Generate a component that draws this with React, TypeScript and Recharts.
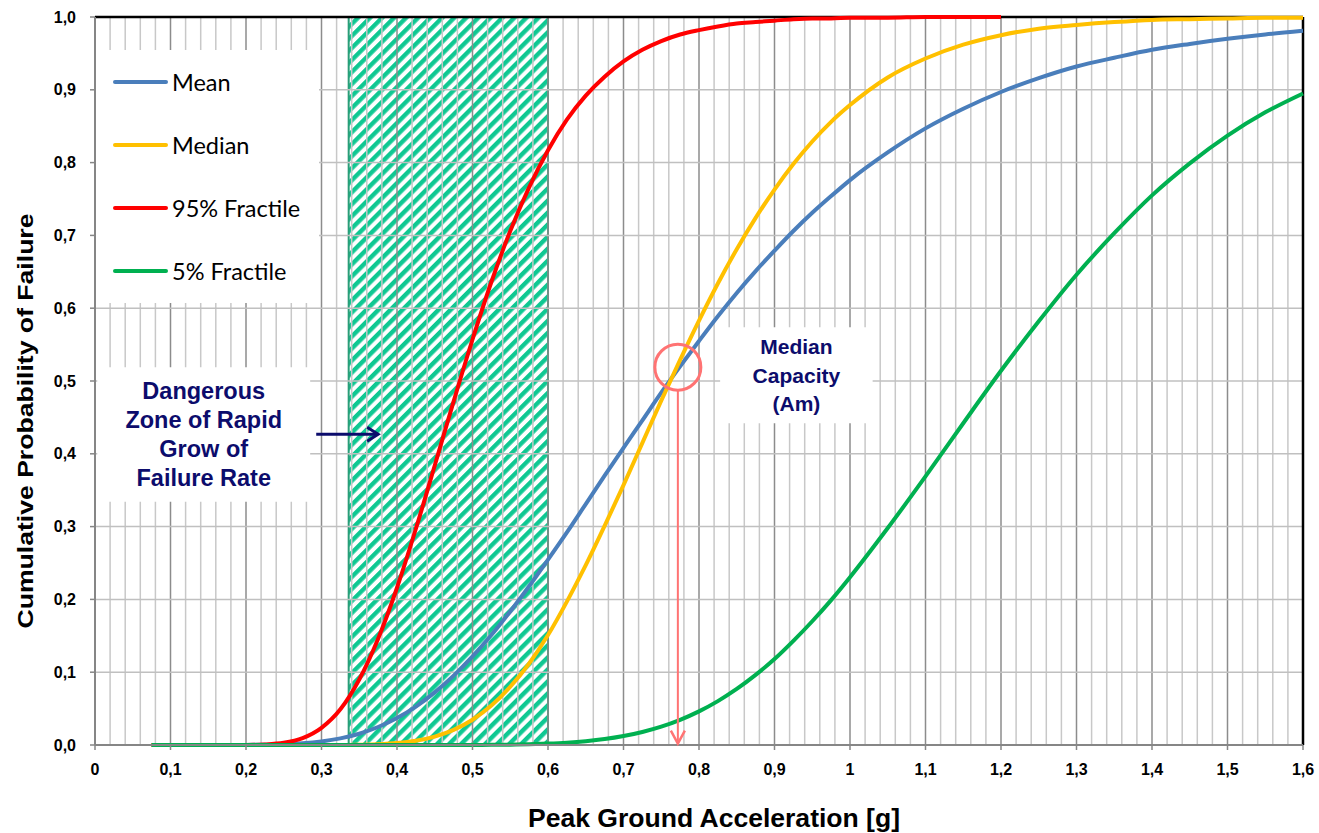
import React from 'react';
import { LineChart, Line, XAxis, YAxis, ReferenceArea, ReferenceLine, ReferenceDot, Legend, Label } from 'recharts';

const pga = [0.075, 0.1, 0.125, 0.15, 0.175, 0.2, 0.225, 0.25, 0.275, 0.3, 0.325, 0.35, 0.375, 0.4, 0.425, 0.45, 0.475, 0.5,
  0.525, 0.55, 0.575, 0.6, 0.625, 0.65, 0.675, 0.7, 0.725, 0.75, 0.775, 0.8, 0.825, 0.85, 0.875, 0.9, 0.925, 0.95, 0.975, 1.0,
  1.05, 1.1, 1.15, 1.2, 1.25, 1.3, 1.35, 1.4, 1.45, 1.5, 1.55, 1.6];

const meanP = [0, 0, 0, 0, 0, 0.0001, 0.0004, 0.001, 0.0023, 0.0049, 0.0091, 0.0155, 0.0247, 0.037, 0.0528, 0.0723, 0.0953, 0.1216,
  0.151, 0.1835, 0.218, 0.2546, 0.292, 0.331, 0.37, 0.408, 0.446, 0.484, 0.52, 0.555, 0.589, 0.621, 0.651, 0.679, 0.706, 0.731, 0.754, 0.776,
  0.814, 0.847, 0.874, 0.897, 0.916, 0.932, 0.944, 0.955, 0.963, 0.97, 0.976, 0.981];

const medianP = [0, 0, 0, 0, 0, 0, 0, 0, 0, 0, 0, 0.0004, 0.0011, 0.0027, 0.0059, 0.0116, 0.0208, 0.0347,
  0.0541, 0.08, 0.112, 0.151, 0.197, 0.247, 0.301, 0.357, 0.415, 0.473, 0.529, 0.583, 0.634, 0.681, 0.724, 0.763, 0.798, 0.829, 0.856, 0.879,
  0.917, 0.943, 0.962, 0.975, 0.984, 0.989, 0.993, 0.996, 0.997, 0.998, 0.999, 0.999];

const p95 = [0, 0, 0, 0, 0, 0, 0.0007, 0.003, 0.0095, 0.0236, 0.049, 0.09, 0.146, 0.216, 0.297, 0.384, 0.472, 0.557,
  0.636, 0.706, 0.766, 0.817, 0.859, 0.892, 0.918, 0.939, 0.955, 0.967, 0.976, 0.982, 0.987, 0.991, 0.993, 0.995, 0.997, 0.998, 0.998, 0.999,
  0.999, 1.0, 1.0, 1.0, null, null, null, null, null, null, null, null];

const p5 = [0, 0, 0, 0, 0, 0, 0, 0, 0, 0, 0, 0, 0, 0, 0, 0, 0, 0.0001,
  0.0002, 0.0005, 0.001, 0.0019, 0.0032, 0.0052, 0.0081, 0.0123, 0.0179, 0.0252, 0.0346, 0.0462, 0.0603, 0.077, 0.0963, 0.118, 0.143, 0.17, 0.199, 0.2305,
  0.298, 0.369, 0.442, 0.514, 0.582, 0.646, 0.703, 0.755, 0.799, 0.837, 0.869, 0.895];

const seriesKeys = ['mean', 'median', 'p95', 'p5'];
const seriesNames = ['Mean', 'Median', '95% Fractile', '5% Fractile'];
const seriesColors = ['#4a7ebb', '#ffc000', '#ff0000', '#00b050'];

const xTicks = [0, 0.1, 0.2, 0.3, 0.4, 0.5, 0.6, 0.7, 0.8, 0.9, 1, 1.1, 1.2, 1.3, 1.4, 1.5, 1.6];
const yTicks = [0, 0.1, 0.2, 0.3, 0.4, 0.5, 0.6, 0.7, 0.8, 0.9, 1];
const majorX = [0.1, 0.2, 0.3, 0.4, 0.5, 0.6, 0.7, 0.8, 0.9, 1, 1.1, 1.2, 1.3, 1.4, 1.5];
const majorY = [0.1, 0.2, 0.3, 0.4, 0.5, 0.6, 0.7, 0.8, 0.9];
const minorX = [0.02, 0.04, 0.06, 0.08, 0.12, 0.14, 0.16, 0.18, 0.22, 0.24, 0.26, 0.28, 0.32, 0.34, 0.36, 0.38,
  0.42, 0.44, 0.46, 0.48, 0.52, 0.54, 0.56, 0.58, 0.62, 0.64, 0.66, 0.68, 0.72, 0.74, 0.76, 0.78,
  0.82, 0.84, 0.86, 0.88, 0.92, 0.94, 0.96, 0.98, 1.02, 1.04, 1.06, 1.08, 1.12, 1.14, 1.16, 1.18,
  1.22, 1.24, 1.26, 1.28, 1.32, 1.34, 1.36, 1.38, 1.42, 1.44, 1.46, 1.48, 1.52, 1.54, 1.56, 1.58];

const dangerLines = ['Dangerous', 'Zone of Rapid', 'Grow of', 'Failure Rate'];
const medianLines = ['Median', 'Capacity', '(Am)'];

const chartData = pga.map((x, i) => ({ x, mean: meanP[i], median: medianP[i], p95: p95[i], p5: p5[i] }));

const NAVY = '#0c0c6c';
const SALMON = '#ff7373';
const FONT = '"Liberation Sans", Arial, sans-serif';

const fmtY = (v: number) => v.toFixed(1).replace('.', ',');
const fmtX = (v: number) => (v === 0 ? '0' : v === 1 ? '1' : v.toFixed(1).replace('.', ','));

const BoxText = (props: any) => {
  const { viewBox, lines, size, lh } = props;
  const cx = viewBox.x + viewBox.width / 2;
  const cy = viewBox.y + viewBox.height / 2;
  const start = cy - ((lines.length - 1) * lh) / 2;
  return (
    <g>
      {lines.map((t: string, i: number) => (
        <text key={t} x={cx} y={start + i * lh} textAnchor="middle" dominantBaseline="central"
          fill={NAVY} fontFamily={FONT} fontWeight="bold" fontSize={size}>{t}</text>
      ))}
    </g>
  );
};

const LegendBox = () => (
  <div style={{ paddingTop: 0.5 }}>
    {seriesNames.map((n, i) => (
      <div key={n} style={{ height: 63, display: 'flex', alignItems: 'center' }}>
        <div style={{ marginLeft: 17, width: 55, height: 4.5, borderRadius: 3, background: seriesColors[i] }} />
        <span style={{ marginLeft: 4, fontFamily: 'Lato, sans-serif', fontSize: 23.5, color: '#000' }}>{n}</span>
      </div>
    ))}
  </div>
);

export default function App() {
  return (
    <div style={{ position: 'absolute', left: 0, top: 0, width: 1319, height: 833, background: '#fff' }}>
      <svg width={0} height={0} style={{ position: 'absolute' }}>
        <defs>
          <pattern id="hatch" patternUnits="userSpaceOnUse" width={8.5} height={8.5} patternTransform="rotate(45)">
            <rect x={0} y={0} width={4.4} height={8.5} fill="#0fc892" />
          </pattern>
          <marker id="navyArrow" markerWidth={16} markerHeight={18} refX={13} refY={9} orient="auto" markerUnits="userSpaceOnUse">
            <path d="M2,2 L13,9 L2,16" fill="none" stroke={NAVY} strokeWidth={3} />
          </marker>
          <marker id="redArrow" markerWidth={18} markerHeight={18} refX={15} refY={9} orient="auto" markerUnits="userSpaceOnUse">
            <path d="M2,2 L15,9 L2,16" fill="none" stroke={SALMON} strokeWidth={2.5} />
          </marker>
        </defs>
      </svg>
      <LineChart width={1319} height={833} data={chartData} margin={{ top: 17, right: 16, bottom: 0, left: 0 }}>
        <ReferenceArea x1={0.336} x2={0.6} y1={0} y2={1} fill="url(#hatch)" fillOpacity={1} stroke="#2a9d78" strokeWidth={2} />
        {minorX.map((v) => (
          <ReferenceLine key={'mx' + v} x={v} stroke="#c8c8c8" strokeWidth={1.5} />
        ))}
        {majorX.map((v) => (
          <ReferenceLine key={'MX' + v} x={v} stroke="#8c8c8c" strokeWidth={1.5} />
        ))}
        {majorY.map((v) => (
          <ReferenceLine key={'MY' + v} y={v} stroke="#c0c0c0" strokeWidth={1.5} />
        ))}
        <ReferenceLine y={1} stroke="#000" strokeWidth={2.5} />
        <ReferenceLine x={1.6} stroke="#000" strokeWidth={2.5} />
        <ReferenceArea x1={0.003} x2={0.285} y1={0.334} y2={0.519} fill="#fff" fillOpacity={1} stroke="none" zIndex={450}
          label={<BoxText lines={dangerLines} size={23.5} lh={28.7} />} />
        <ReferenceArea x1={0.828} x2={1.03} y1={0.442} y2={0.574} fill="#fff" fillOpacity={1} stroke="none" zIndex={450}
          label={<BoxText lines={medianLines} size={21} lh={28.5} />} />
        <XAxis type="number" dataKey="x" domain={[0, 1.6]} ticks={xTicks} tickFormatter={fmtX} height={88}
          interval={0} tickSize={5} tickMargin={14} axisLine={{ stroke: '#868686', strokeWidth: 2 }}
          tickLine={{ stroke: '#868686', strokeWidth: 1.5 }}
          tick={{ fill: '#000', fontSize: 16, fontWeight: 'bold', fontFamily: FONT }}>
          <Label content={() => (
            <text x={714} y={818} textAnchor="middle" dominantBaseline="central" fontFamily={FONT} fontWeight="bold"
              fontSize={25} fill="#000" textLength={372} lengthAdjust="spacingAndGlyphs">Peak Ground Acceleration [g]</text>
          )} />
        </XAxis>
        <YAxis type="number" domain={[0, 1]} ticks={yTicks} tickFormatter={fmtY} width={95} interval={0}
          tickSize={5} tickMargin={14} axisLine={{ stroke: '#868686', strokeWidth: 2 }}
          tickLine={{ stroke: '#868686', strokeWidth: 1.5 }}
          tick={{ fill: '#000', fontSize: 16, fontWeight: 'bold', fontFamily: FONT }}>
          <Label content={() => (
            <text x={25} y={421} transform="rotate(-90, 25, 421)" textAnchor="middle" dominantBaseline="central"
              fontFamily={FONT} fontWeight="bold" fontSize={22} fill="#000" textLength={415}
              lengthAdjust="spacingAndGlyphs">Cumulative Probability of Failure</text>
          )} />
        </YAxis>
        {seriesKeys.map((k, i) => (
          <Line key={k} type="monotone" dataKey={k} name={seriesNames[i]} stroke={seriesColors[i]} strokeWidth={4}
            dot={false} activeDot={false} isAnimationActive={false} />
        ))}
        <ReferenceLine segment={[{ x: 0.293, y: 0.427 }, { x: 0.375, y: 0.427 }]} zIndex={500}
          shape={(p: any) => (
            <line x1={p.x1} y1={p.y1} x2={p.x2} y2={p.y2} stroke={NAVY} strokeWidth={3} markerEnd="url(#navyArrow)" />
          )} />
        <ReferenceLine segment={[{ x: 0.772, y: 0.488 }, { x: 0.772, y: 0.002 }]} zIndex={500}
          shape={(p: any) => (
            <line x1={p.x1} y1={p.y1} x2={p.x2} y2={p.y2} stroke={SALMON} strokeWidth={2} markerEnd="url(#redArrow)" />
          )} />
        <ReferenceDot x={0.772} y={0.519} r={23} fill="none" stroke={SALMON} strokeWidth={3} />
        <Legend layout="vertical" align="center" verticalAlign="middle" content={<LegendBox />}
          wrapperStyle={{ left: 96, top: 50, width: 223, height: 253, background: '#fff' }} />
      </LineChart>
    </div>
  );
}
